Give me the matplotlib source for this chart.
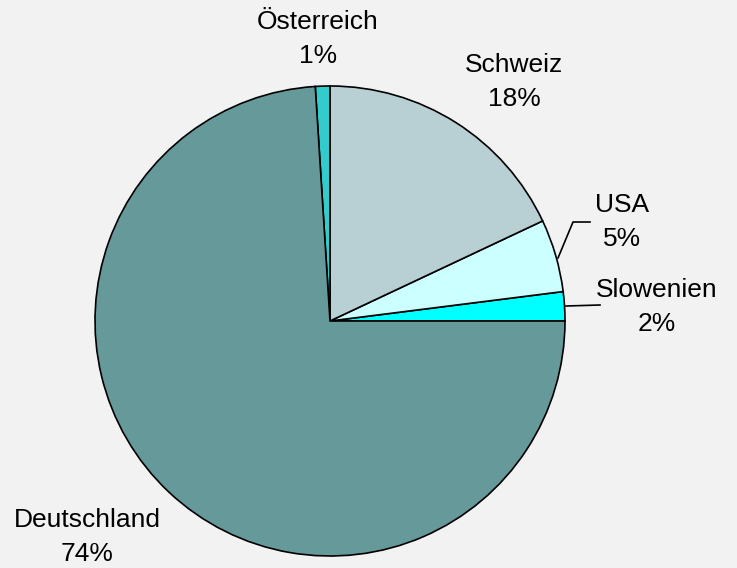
import matplotlib
matplotlib.use("Agg")
import matplotlib.pyplot as plt

categories = ["Slowenien", "USA", "Schweiz", "Österreich", "Deutschland"]
values = [2, 5, 18, 1, 74]
pct_labels = ["2%", "5%", "18%", "1%", "74%"]
colors = ["#00FFFF", "#CCFFFF", "#B8CFD4", "#33CCCC", "#669999"]

W, H = 737, 568
fig = plt.figure(figsize=(W / 100, H / 100), dpi=100, facecolor="#F2F2F2")
ax = fig.add_axes([0, 0, 1, 1])

cx, cy, r = 330, 321, 235
wedges, _ = ax.pie(values, colors=colors, startangle=0, counterclock=False,
                   center=(cx, cy), radius=r, frame=True,
                   wedgeprops=dict(edgecolor="black", linewidth=1.2))
ax.set_xlim(0, W)
ax.set_ylim(H, 0)
ax.set_aspect("equal")
ax.axis("off")

label_pos = {
    "Slowenien": (657, 307),
    "USA": (622, 222),
    "Schweiz": (514, 82),
    "Österreich": (318, 39),
    "Deutschland": (87, 537),
}
for cat, p in zip(categories, pct_labels):
    x, y = label_pos[cat]
    ax.text(x, y, f"{cat}\n{p}", ha="center", va="center", fontsize=19,
            family=["Liberation Sans", "DejaVu Sans"], linespacing=1.5, color="black")

# leader lines
ax.plot([558, 573, 590], [258, 222, 222], color="black", lw=1.2)
ax.plot([566, 600], [306, 305], color="black", lw=1.2)

fig.savefig("out.png", dpi=100, facecolor=fig.get_facecolor())
